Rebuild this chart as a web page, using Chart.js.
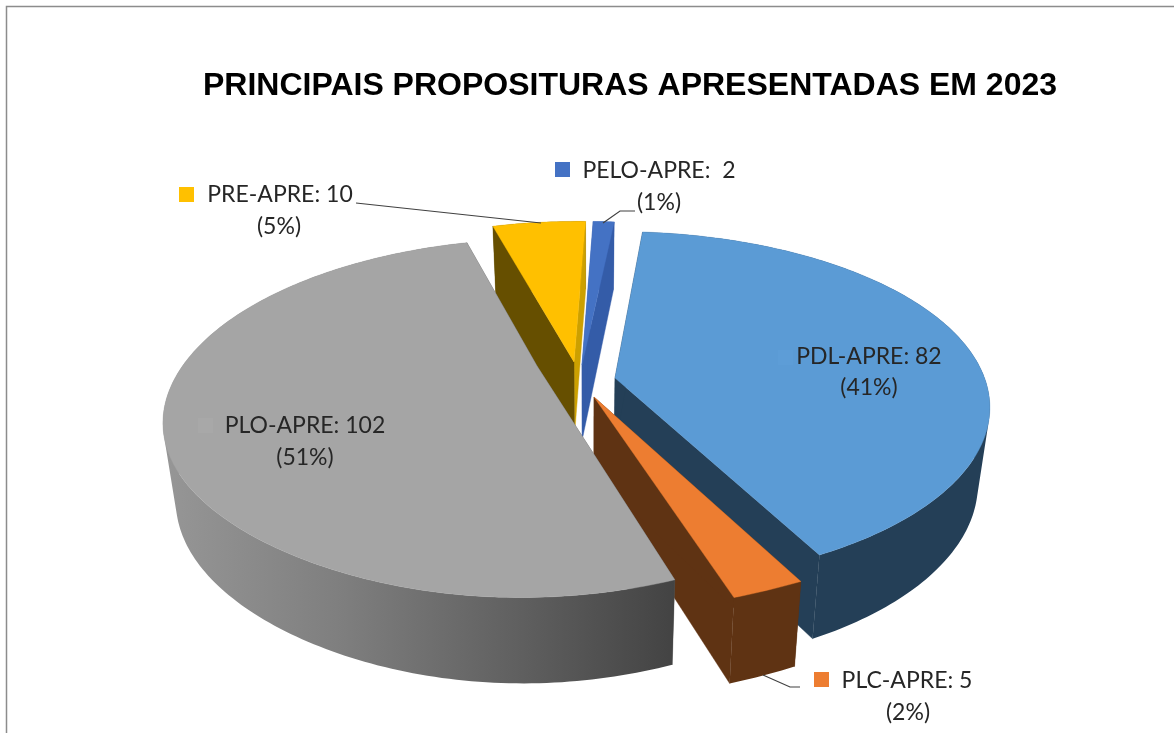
<!DOCTYPE html>
<html><head><meta charset="utf-8">
<style>html,body{margin:0;padding:0;background:#fff}canvas{display:block}</style>
<script src="https://cdn.jsdelivr.net/npm/chart.js@4"></script>
</head><body><canvas id="c" width="1174" height="733"></canvas>
<script>
const titleText = 'PRINCIPAIS PROPOSITURAS APRESENTADAS EM 2023';
const categories = ['PDL-APRE', 'PLC-APRE', 'PLO-APRE', 'PRE-APRE', 'PELO-APRE'];
const seriesValues = [82, 5, 102, 10, 2];
const topColors = ['#5B9BD5', '#ED7D31', '#A5A5A5', '#FFC000', '#4472C4'];
const cutColors = ['#243F57', '#5F3313', '#5A5A5A', '#664F00', '#345CA8'];
const sideColors = ['#243F57', '#5F3313', null, '#CCA000', '#345CA8'];

// perspective of the tilted pie
const F = 367, G = 175.8;
// per-slice placement (explosion) on the page
const place = [
  {ax:615, ay:378, sx:1.007, sy:0.973, q:0, P:0.1675, k:0},
  {ax:594, ay:397, sx:1.12, sy:0.98, q:0.2, P:0.2, k:0},
  {ax:537, ay:366, sx:0.966, sy:0.935, q:0.06, P:0.29, k:-0.07},
  {ax:574, ay:362, sx:0.975, sy:0.96, q:0, P:0.2, k:-0.03},
  {ax:582, ay:365, sx:1.10, sy:0.98, q:0, P:0.2, k:-0.02}
];
const labelPos = [
  {l1:[869,357], l2:[869,388], key:[778,350], keyColor:'#5D9DD7'},
  {l1:[907,681], l2:[908,713], key:[814,672], keyColor:'#ED7D31'},
  {l1:[305,426], l2:[305,458], key:[198,418], keyColor:'#A8A8A8'},
  {l1:[280,195], l2:[279,227], key:[179,187], keyColor:'#FFC000'},
  {l1:[659,171], l2:[659,203], key:[555,162], keyColor:'#4472C4'}
];
const leaders = [
  [[356,203],[541,223]],
  [[635,211],[620,211],[603,223]],
  [[800,687],[790,687],[763,675]]
];

function proj(th, s){
  const X = Math.sin(th), Y = Math.cos(th), w = 1 + s.P*Y;
  const t = Math.max(0, -Y), warp = 1 - s.q*t*t*t*t;
  const dy = -G*s.sy*Y/w;
  return [s.ax + F*s.sx*X/w*warp + s.k*dy, s.ay + dy];
}
function drop(p){
  return [590 + (p[0]-590)*0.97, p[1] + 68 + (p[1]-225)*0.048];
}
function poly(ctx, pts, fill){
  ctx.beginPath();
  pts.forEach((p,i)=> i ? ctx.lineTo(p[0],p[1]) : ctx.moveTo(p[0],p[1]));
  ctx.closePath();
  ctx.fillStyle = fill;
  ctx.fill();
  ctx.strokeStyle = fill; ctx.lineWidth = 0.4; ctx.stroke();
}
// rim swept down to the base: all segment quads in one path, same winding, filled once
function sweep(ctx, rim, fill){
  ctx.beginPath();
  for(let k=0;k<rim.length-1;k++){
    let q = [rim[k], rim[k+1], drop(rim[k+1]), drop(rim[k])];
    let area = 0;
    q.forEach((p,j)=>{ const r = q[(j+1)%4]; area += p[0]*r[1]-r[0]*p[1]; });
    if(area < 0) q = q.reverse();
    q.forEach((p,j)=> j ? ctx.lineTo(p[0],p[1]) : ctx.moveTo(p[0],p[1]));
    ctx.closePath();
  }
  ctx.fillStyle = fill;
  ctx.fill('nonzero');
}

const pie3d = {
  id:'pie3d',
  beforeDatasetDraw(chart, args){
    const ctx = chart.ctx, arcs = args.meta.data;
    const order = [4,3,0,1,2];
    order.forEach(i=>{
      const a = arcs[i], s = place[i];
      const a0 = a.startAngle + Math.PI/2, a1 = a.endAngle + Math.PI/2;
      const n = Math.max(6, Math.ceil((a1-a0)*60));
      const rim = [];
      for(let k=0;k<=n;k++) rim.push(proj(a0+(a1-a0)*k/n, s));
      const c = [s.ax, s.ay], cb = drop(c);
      const first = rim[0], last = rim[n];
      let wall = sideColors[i] ? cutColors[i] : null;
      if(!wall){
        wall = ctx.createLinearGradient(166,0,675,0);
        wall.addColorStop(0,'#969696');
        wall.addColorStop(0.35,'#7E7E7E');
        wall.addColorStop(0.7,'#5F5F5F');
        wall.addColorStop(1,'#434343');
      }
      const drawCuts = ()=>{
        poly(ctx, [c, last, drop(last), cb], sideColors[i] || cutColors[i]);
        poly(ctx, [c, first, drop(first), cb], cutColors[i]);
      };
      const drawWall = ()=> sweep(ctx, rim, wall);
      // the two back slices show their cut faces in front of their rim
      if(i >= 3){ drawWall(); drawCuts(); } else { drawCuts(); drawWall(); }
      // top face
      poly(ctx, [c].concat(rim), a.options.backgroundColor);
    });
    return false;
  },
  afterDraw(chart){
    const ctx = chart.ctx;
    // frame
    ctx.save();
    ctx.strokeStyle = '#8C8C8C'; ctx.lineWidth = 1.5;
    ctx.beginPath(); ctx.moveTo(6.5,733); ctx.lineTo(6.5,6.5); ctx.lineTo(1174,6.5); ctx.stroke();
    // leader lines
    ctx.strokeStyle = '#404040'; ctx.lineWidth = 1.2;
    leaders.forEach(l=>{
      ctx.beginPath();
      l.forEach((p,i)=> i ? ctx.lineTo(p[0],p[1]) : ctx.moveTo(p[0],p[1]));
      ctx.stroke();
    });
    // labels
    const total = seriesValues.reduce((a,b)=>a+b,0);
    ctx.font = '23px Lato, "Open Sans", sans-serif';
    ctx.textAlign = 'center'; ctx.textBaseline = 'middle';
    categories.forEach((name,i)=>{
      const lp = labelPos[i];
      ctx.fillStyle = lp.keyColor;
      ctx.fillRect(lp.key[0], lp.key[1], 15, 15);
      ctx.fillStyle = '#262626';
      const sep = name === 'PELO-APRE' ? ':  ' : ': ';
      ctx.fillText(name + sep + seriesValues[i], lp.l1[0], lp.l1[1]);
      ctx.fillText('(' + Math.round(seriesValues[i]/total*100) + '%)', lp.l2[0], lp.l2[1]);
    });
    ctx.restore();
  }
};

new Chart(document.getElementById('c'), {
  type:'pie',
  data:{ labels:categories, datasets:[{ data:seriesValues, backgroundColor:topColors, borderWidth:0 }] },
  options:{
    responsive:false, animation:false, rotation:5,
    layout:{ padding:{ left:86, right:0, top:0, bottom:0 } },
    plugins:{
      legend:{ display:false }, tooltip:{ enabled:false },
      title:{ display:true, text:titleText, color:'#000',
        font:{ family:'"Liberation Sans", Arial, sans-serif', size:32, weight:'bold' },
        padding:{ top:67, bottom:20 } }
    }
  },
  plugins:[pie3d]
});
</script></body></html>
